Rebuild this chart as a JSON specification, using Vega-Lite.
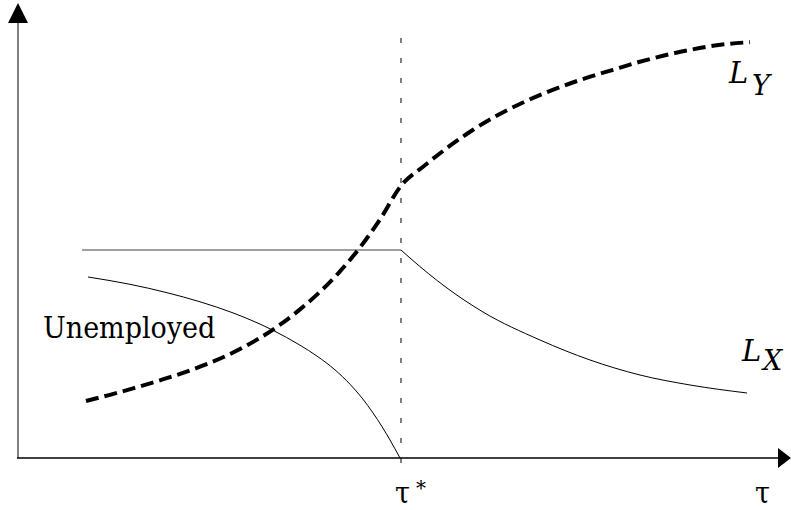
{
  "$schema": "https://vega.github.io/schema/vega-lite/v6.json",
  "width": 791,
  "height": 510,
  "autosize": "none",
  "padding": 0,
  "background": "white",
  "config": {"view": {"stroke": null}},
  "datasets": {
    "curves": [
      {"series": "LY", "x": 0.1775, "y": 0.274},
      {"series": "LY", "x": 0.2402, "y": 0.3038},
      {"series": "LY", "x": 0.3003, "y": 0.3346},
      {"series": "LY", "x": 0.3708, "y": 0.3736},
      {"series": "LY", "x": 0.4752, "y": 0.4389},
      {"series": "LY", "x": 0.5796, "y": 0.5236},
      {"series": "LY", "x": 0.6762, "y": 0.6303},
      {"series": "LY", "x": 0.7363, "y": 0.7144},
      {"series": "LY", "x": 0.7885, "y": 0.799},
      {"series": "LY", "x": 0.8407, "y": 0.8971},
      {"series": "LY", "x": 0.893, "y": 1.0125},
      {"series": "LY", "x": 0.9452, "y": 1.1471},
      {"series": "LY", "x": 1.0, "y": 1.3087},
      {"series": "LY", "x": 1.0601, "y": 1.4038},
      {"series": "LY", "x": 1.1201, "y": 1.4904},
      {"series": "LY", "x": 1.1854, "y": 1.5745},
      {"series": "LY", "x": 1.2507, "y": 1.6466},
      {"series": "LY", "x": 1.3159, "y": 1.7067},
      {"series": "LY", "x": 1.3812, "y": 1.7587},
      {"series": "LY", "x": 1.4674, "y": 1.8173},
      {"series": "LY", "x": 1.5535, "y": 1.8663},
      {"series": "LY", "x": 1.6188, "y": 1.9024},
      {"series": "LY", "x": 1.6841, "y": 1.9337},
      {"series": "LY", "x": 1.7493, "y": 1.9601},
      {"series": "LY", "x": 1.8146, "y": 1.9817},
      {"series": "LY", "x": 1.9112, "y": 1.9995},
      {"series": "U", "x": 0.1828, "y": 0.8702},
      {"series": "U", "x": 0.2924, "y": 0.8351},
      {"series": "U", "x": 0.389, "y": 0.7947},
      {"series": "U", "x": 0.4752, "y": 0.751},
      {"series": "U", "x": 0.5614, "y": 0.6976},
      {"series": "U", "x": 0.6658, "y": 0.6139},
      {"series": "U", "x": 0.7363, "y": 0.5423},
      {"series": "U", "x": 0.7807, "y": 0.4899},
      {"series": "U", "x": 0.8277, "y": 0.4236},
      {"series": "U", "x": 0.8668, "y": 0.3548},
      {"series": "U", "x": 0.8982, "y": 0.2885},
      {"series": "U", "x": 0.9269, "y": 0.2168},
      {"series": "U", "x": 0.9504, "y": 0.151},
      {"series": "U", "x": 0.9713, "y": 0.0865},
      {"series": "U", "x": 0.9974, "y": 0.0},
      {"series": "LX", "x": 1.0, "y": 1.0},
      {"series": "LX", "x": 1.0235, "y": 0.9615},
      {"series": "LX", "x": 1.1201, "y": 0.8173},
      {"series": "LX", "x": 1.2141, "y": 0.7019},
      {"series": "LX", "x": 1.3629, "y": 0.5673},
      {"series": "LX", "x": 1.4935, "y": 0.4712},
      {"series": "LX", "x": 1.624, "y": 0.399},
      {"series": "LX", "x": 1.7546, "y": 0.351},
      {"series": "LX", "x": 1.9034, "y": 0.3125},
      {"series": "flat", "x": 0.1671, "y": 1.0},
      {"series": "flat", "x": 1.0, "y": 1.0}
    ],
    "rules": [
      {"guide": "yaxis", "x": 0.0, "x2": 0.0, "y": 0.0, "y2": 2.0913},
      {"guide": "xaxis", "x": -0.0026, "x2": 1.9896, "y": 0.0, "y2": 0.0},
      {"guide": "tau", "x": 1.0, "x2": 1.0, "y": -0.024, "y2": 2.0577}
    ],
    "arrows": [
      {"dir": "up", "x": 0.0, "y": 2.1394},
      {"dir": "right", "x": 2.0013, "y": 0.0}
    ],
    "labels": [
      {"text": "Unemployed", "x": 0.0653, "y": 0.5769},
      {"text": "τ", "x": 0.9843, "y": -0.2163},
      {"text": "τ", "x": 1.9243, "y": -0.2163}
    ],
    "sup": [
      {"text": "*", "x": 1.0392, "y": -0.1779}
    ],
    "italic": [
      {"text": "L", "x": 1.8564, "y": 1.8029},
      {"text": "L", "x": 1.8903, "y": 0.4663}
    ],
    "sub": [
      {"text": "Y", "x": 1.9164, "y": 1.7452},
      {"text": "X", "x": 1.9452, "y": 0.4231}
    ]
  },
  "encoding": {
    "x": {"field": "x", "type": "quantitative", "axis": null,
          "scale": {"domain": [-0.047, 2.0183], "nice": false, "zero": false}},
    "y": {"field": "y", "type": "quantitative", "axis": null,
          "scale": {"domain": [-0.25, 2.2019], "nice": false, "zero": false}}
  },
  "layer": [
    {
      "data": {"name": "rules"},
      "transform": [{"filter": "datum.guide === 'yaxis'"}],
      "mark": {"type": "rule", "color": "#808080", "strokeWidth": 2},
      "encoding": {"x2": {"field": "x2"}, "y2": {"field": "y2"}}
    },
    {
      "data": {"name": "rules"},
      "transform": [{"filter": "datum.guide === 'xaxis'"}],
      "mark": {"type": "rule", "color": "black", "strokeWidth": 1.5},
      "encoding": {"x2": {"field": "x2"}, "y2": {"field": "y2"}}
    },
    {
      "data": {"name": "rules"},
      "transform": [{"filter": "datum.guide === 'tau'"}],
      "mark": {"type": "rule", "color": "black", "strokeWidth": 1, "strokeDash": [5, 15]},
      "encoding": {"x2": {"field": "x2"}, "y2": {"field": "y2"}}
    },
    {
      "data": {"name": "arrows"},
      "transform": [{"filter": "datum.dir === 'up'"}],
      "mark": {"type": "point", "shape": "M-1,1L0,-1L1,1Z", "size": 400, "filled": true, "color": "black", "opacity": 1}
    },
    {
      "data": {"name": "arrows"},
      "transform": [{"filter": "datum.dir === 'right'"}],
      "mark": {"type": "point", "shape": "M-0.65,-1L0.65,0L-0.65,1Z", "size": 400, "filled": true, "color": "black", "opacity": 1}
    },
    {
      "data": {"name": "curves"},
      "transform": [{"filter": "datum.series === 'flat'"}],
      "mark": {"type": "line", "color": "#808080", "strokeWidth": 1.6}
    },
    {
      "data": {"name": "curves"},
      "transform": [{"filter": "datum.series === 'LX' || datum.series === 'U'"}],
      "mark": {"type": "line", "color": "black", "strokeWidth": 1, "interpolate": "monotone"},
      "encoding": {"detail": {"field": "series"}}
    },
    {
      "data": {"name": "curves"},
      "transform": [{"filter": "datum.series === 'LY'"}],
      "mark": {"type": "line", "color": "black", "strokeWidth": 4, "strokeDash": [13, 6], "strokeCap": "butt", "interpolate": "monotone"}
    },
    {
      "data": {"name": "labels"},
      "mark": {"type": "text", "font": "DejaVu Serif Condensed, DejaVu Serif, serif", "fontSize": 30, "align": "left", "baseline": "alphabetic", "color": "black"},
      "encoding": {"text": {"field": "text"}}
    },
    {
      "data": {"name": "sup"},
      "mark": {"type": "text", "font": "DejaVu Serif, serif", "fontSize": 20, "align": "left", "baseline": "alphabetic", "color": "black"},
      "encoding": {"text": {"field": "text"}}
    },
    {
      "data": {"name": "italic"},
      "mark": {"type": "text", "font": "DejaVu Serif, serif", "fontSize": 29, "fontStyle": "italic", "align": "left", "baseline": "alphabetic", "color": "black"},
      "encoding": {"text": {"field": "text"}}
    },
    {
      "data": {"name": "sub"},
      "mark": {"type": "text", "font": "DejaVu Serif, serif", "fontSize": 27, "fontStyle": "italic", "align": "left", "baseline": "alphabetic", "color": "black"},
      "encoding": {"text": {"field": "text"}}
    }
  ]
}
